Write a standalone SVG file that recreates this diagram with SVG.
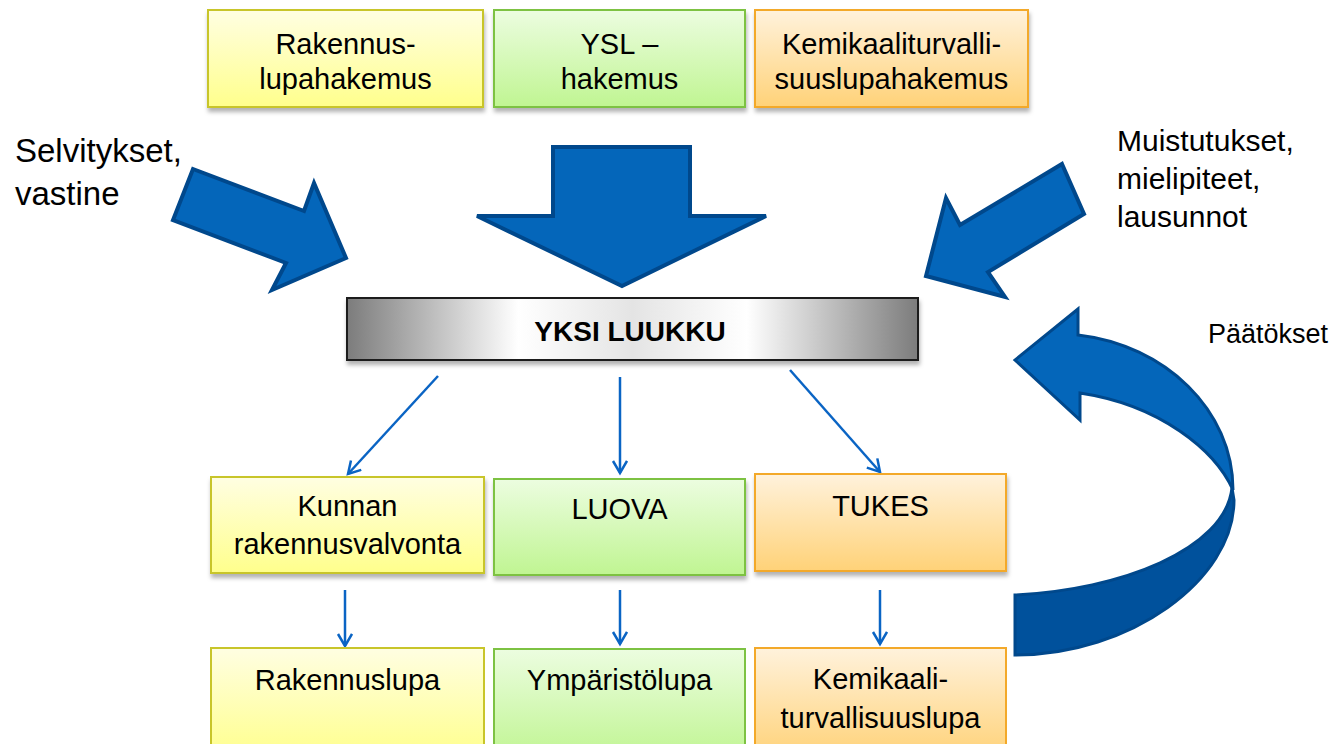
<svg xmlns="http://www.w3.org/2000/svg" width="1341" height="744" viewBox="0 0 1341 744">
<style>
text{font-family:"Liberation Sans",Arial,sans-serif;fill:#000;}
.bt{font-size:29px;text-anchor:middle;}
.side{font-size:33px;}
.y{fill:url(#gy);stroke:#c8c52a;stroke-width:2;}
.g{fill:url(#gg);stroke:#7dc243;stroke-width:2;}
.o{fill:url(#go);stroke:#f3a92a;stroke-width:2;}
.big{fill:#0466ba;stroke:#00488c;stroke-width:4;stroke-linejoin:miter;}
.con{stroke:#0a64c4;stroke-width:2.5;fill:none;marker-end:url(#ah);}
</style>
<defs>
<linearGradient id="gy" x1="0" y1="0" x2="0" y2="1"><stop offset="0" stop-color="#fffee2"/><stop offset="1" stop-color="#ffff8c"/></linearGradient>
<linearGradient id="gg" x1="0" y1="0" x2="0" y2="1"><stop offset="0" stop-color="#ecfde0"/><stop offset="1" stop-color="#c0f592"/></linearGradient>
<linearGradient id="go" x1="0" y1="0" x2="0" y2="1"><stop offset="0" stop-color="#fff2dc"/><stop offset="1" stop-color="#ffd278"/></linearGradient>
<linearGradient id="gbar" x1="0" y1="0" x2="1" y2="0"><stop offset="0" stop-color="#7c7c7c"/><stop offset="0.3" stop-color="#ffffff"/><stop offset="0.5" stop-color="#e4e4e4"/><stop offset="0.7" stop-color="#ffffff"/><stop offset="1" stop-color="#7c7c7c"/></linearGradient>
<filter id="sh" x="-5%" y="-10%" width="110%" height="130%"><feDropShadow dx="1" dy="4" stdDeviation="2" flood-color="#000" flood-opacity="0.3"/></filter>
<marker id="ah" markerWidth="20" markerHeight="20" refX="14" refY="8" orient="auto" markerUnits="userSpaceOnUse"><path d="M2,1 L14,8 L2,15" fill="none" stroke="#0a64c4" stroke-width="2.5"/></marker>
</defs>

<g id="top-rakennus"><rect class="y" x="208" y="10" width="275" height="97" filter="url(#sh)"/><text class="bt" x="345.5" y="54">Rakennus-</text><text class="bt" x="345.5" y="89">lupahakemus</text></g>
<g id="top-ysl"><rect class="g" x="494" y="10" width="251" height="97" filter="url(#sh)"/><text class="bt" x="619.5" y="54">YSL –</text><text class="bt" x="619.5" y="89">hakemus</text></g>
<g id="top-kemikaali"><rect class="o" x="755" y="10" width="273" height="97" filter="url(#sh)"/><text class="bt" x="891.5" y="54">Kemikaaliturvalli-</text><text class="bt" x="891.5" y="89">suuslupahakemus</text></g>

<g id="label-selvitykset"><text class="side" x="15" y="162">Selvitykset,</text><text class="side" x="15" y="205">vastine</text></g>
<g id="label-muistutukset"><text class="side" x="1117" y="151" style="font-size:30px">Muistutukset,</text><text class="side" x="1117" y="189" style="font-size:30px">mielipiteet,</text><text class="side" x="1117" y="227" style="font-size:30px">lausunnot</text></g>
<g id="label-paatokset"><text x="1208" y="343" style="font-size:27px">Päätökset</text></g>

<g id="arrow-left"><polygon class="big" points="193,169 304,211 314,183 346,258 272,290 286,263 173,220"/></g>
<g id="arrow-down"><polygon class="big" points="553,147 690,147 690,216 766,216 622,286 477,216 553,216"/></g>
<g id="arrow-right"><polygon class="big" points="1062,164 1084,214 988,272 1005,297 926,276 946,198 960,225"/></g>
<g id="arrow-curved">
<path d="M1232,488 C1225,550 1120,590 1015,595 L1015,655 C1130,655 1234,580 1234,500 Z" fill="#00519c" stroke="#00488c" stroke-width="3"/>
<path d="M1078,335 C1165,345 1233,410 1233,490 C1215,450 1160,405 1080,393 L1080,420 L1015,360 L1078,309 Z" class="big" style="stroke-width:3"/>
</g>

<g id="yksi-luukku"><rect x="347" y="298" width="571" height="62" fill="url(#gbar)" stroke="#1a1a1a" stroke-width="2" filter="url(#sh)"/><text x="630" y="341" style="font-size:28px;font-weight:bold;text-anchor:middle">YKSI LUUKKU</text></g>

<g id="connectors">
<line class="con" x1="438" y1="376" x2="348" y2="474"/>
<line class="con" x1="620" y1="377" x2="620" y2="473"/>
<line class="con" x1="790" y1="370" x2="880" y2="472"/>
<line class="con" x1="345" y1="590" x2="345" y2="646"/>
<line class="con" x1="620" y1="590" x2="620" y2="644"/>
<line class="con" x1="880" y1="590" x2="880" y2="644"/>
</g>

<g id="kunnan"><rect class="y" x="211" y="477" width="273" height="96" filter="url(#sh)"/><text class="bt" x="347.5" y="516">Kunnan</text><text class="bt" x="347.5" y="554">rakennusvalvonta</text></g>
<g id="luova"><rect class="g" x="494" y="479" width="251" height="96" filter="url(#sh)"/><text class="bt" x="619.5" y="519">LUOVA</text></g>
<g id="tukes"><rect class="o" x="755" y="474" width="251" height="97" filter="url(#sh)"/><text class="bt" x="880.5" y="516">TUKES</text></g>

<g id="rakennuslupa"><rect class="y" x="211" y="648" width="273" height="110"/><text class="bt" x="347.5" y="690">Rakennuslupa</text></g>
<g id="ymparistolupa"><rect class="g" x="494" y="649" width="251" height="110"/><text class="bt" x="619.5" y="690">Ympäristölupa</text></g>
<g id="kemikaalilupa"><rect class="o" x="755" y="648" width="251" height="110"/><text class="bt" x="880.5" y="689">Kemikaali-</text><text class="bt" x="880.5" y="728">turvallisuuslupa</text></g>
</svg>
